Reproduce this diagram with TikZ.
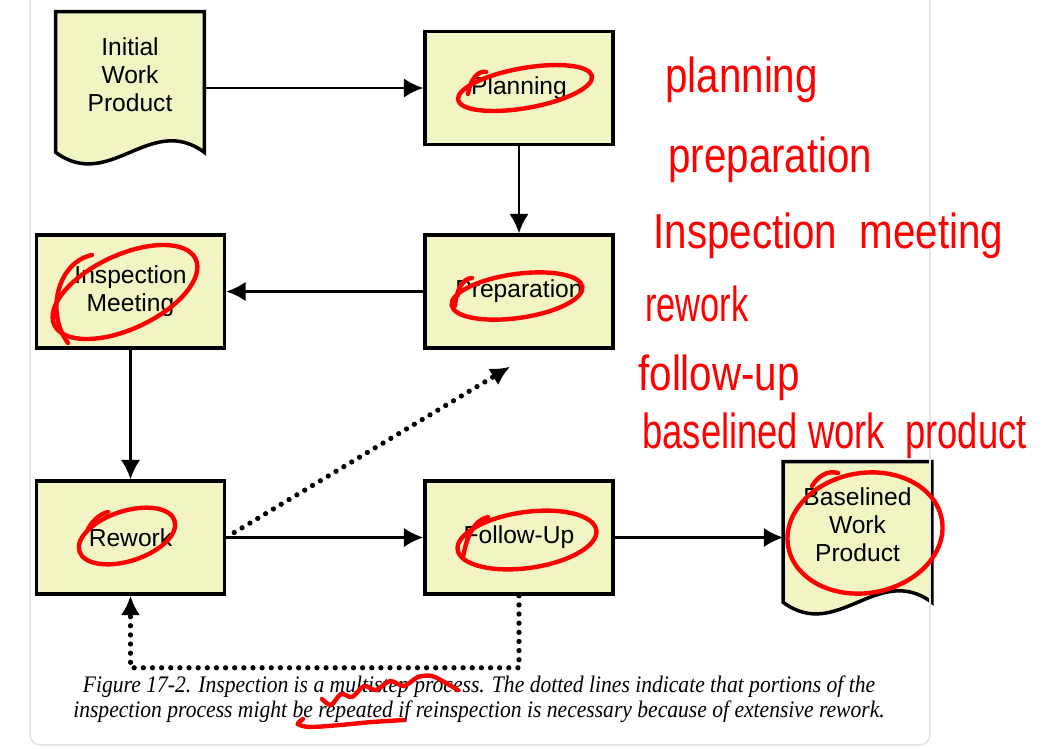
\documentclass[tikz,border=0pt]{standalone}
\usepackage{xcolor}
\usepackage{fontspec}
\setmainfont{Liberation Sans}
\newfontfamily\capfont{Liberation Serif}
\usepackage{tikz}
\usetikzlibrary{calc}
\usetikzlibrary{arrows.meta}
\usetikzlibrary{positioning}
\usetikzlibrary{backgrounds}
\definecolor{boxfill}{RGB}{242,244,196}
\definecolor{pen}{RGB}{255,0,0}
\definecolor{frame}{RGB}{230,230,230}
\tikzset{>={Latex[length=11pt,width=11pt]}}
\tikzstyle{stage} = [rectangle, draw=black, line width=2pt, fill=boxfill, minimum width=3.76cm, minimum height=2.26cm, align=center, font=\fontsize{14}{16}\selectfont]
\tikzstyle{doc} = [rectangle, draw=none, minimum width=2.96cm, minimum height=2.52cm, align=center, font=\fontsize{14}{16}\selectfont]
\tikzstyle{docline} = [draw=black, line width=2pt, fill=boxfill]
\tikzstyle{flow} = [->, line width=1.5pt]
\tikzstyle{redo} = [->, line width=3pt, line cap=round, dash pattern=on 0pt off 5.2pt]
\tikzstyle{ink} = [draw=pen, line width=2.5pt, line cap=round]
\tikzstyle{scrawl} = [text=pen, inner sep=0, anchor=base west, font=\fontsize{28}{28}\selectfont]
\newcommand{\hand}[1]{\scalebox{0.82}[1]{#1}}

\begin{document}
\begin{tikzpicture}[x=0.02cm, y=-0.02cm]
\useasboundingbox (0,0) rectangle (1044,748);
\draw [frame, line width=1pt, rounded corners=6pt] (30,0) -- (30,745) -- (930,745) -- (930,0);
% work products
\node [doc] (init) at (130,75) {Initial\\Work\\Product};
\node [doc] (base) at (857.5,525) {Baselined\\Work\\Product};
\begin{scope}[on background layer]
\draw [docline] (init.north west) -- (init.north east) -- ($(init.south east)+(0,14)$) .. controls ($(init.south east)+(-54,-26)$) and ($(init.south west)+(54,54)$) .. ($(init.south west)+(0,14)$) -- cycle;
\draw [docline] (base.north west) -- (base.north east) -- ($(base.south east)+(0,14)$) .. controls ($(base.south east)+(-54,-26)$) and ($(base.south west)+(54,54)$) .. ($(base.south west)+(0,14)$) -- cycle;
\end{scope}
% stages
\node [stage] (plan) at (519,88) {Planning};
\node [stage] (prep) at (519,291.5) {Preparation};
\node [stage] (insp) at (130.5,291.5) {Inspection\\Meeting};
\node [stage] (rew) at (130.5,537.5) {Rework};
\node [stage] (fol) at (519,537.5) {Follow-Up};
\draw [flow] (init.east |- plan.west) to (plan.west);
\draw [flow] (plan) to (prep);
\draw [flow] (prep) to (insp);
\draw [flow] (insp) to (rew);
\draw [flow] (rew) to (fol);
\draw [flow] (fol.east) to (fol.east -| base.west);
\draw [redo] ([xshift=0.16cm, yshift=0.1cm]rew.east) to ([xshift=-0.18cm, yshift=-0.34cm]prep.south);
\draw [redo] (fol.south) -- ++(0,72) -| (rew.south);
\node [font=\capfont\itshape\fontsize{13.5}{14.2}\selectfont, align=center, inner sep=0] (cap) at (479,699) {\scalebox{0.91}[1]{Figure 17-2. Inspection is a multistep process. The dotted lines indicate that portions of the}\\\scalebox{0.91}[1]{inspection process might be repeated if reinspection is necessary because of extensive rework.}};
% red marks
\draw [ink, rotate around={10:(525,88)}] (525,88) ellipse [x radius=1.36cm, y radius=0.4cm];
\draw [ink] (468,94) .. controls (470,80) and (478,70) .. (486,72);
\draw [ink, rotate around={8:(517,296)}] (517,296) ellipse [x radius=1.32cm, y radius=0.44cm];
\draw [ink] (455,306) .. controls (456,292) and (462,278) .. (472,278);
\draw [ink, rotate around={25:(125,292)}] (125,292) ellipse [x radius=1.56cm, y radius=0.74cm];
\draw [ink] (68,343) .. controls (45,312) and (58,262) .. (92,255);
\draw [ink, rotate around={18:(127,536)}] (127,536) ellipse [x radius=1.0cm, y radius=0.5cm];
\draw [ink] (88,529) .. controls (93,520) and (100,514) .. (108,512);
\draw [ink, rotate around={8:(527,540)}] (527,540) ellipse [x radius=1.4cm, y radius=0.56cm];
\draw [ink] (463,557) .. controls (466,540) and (473,520) .. (488,517);
\draw [ink, rotate around={10:(865,533)}] (865,533) ellipse [x radius=1.56cm, y radius=1.2cm];
\draw [ink] (812,486) .. controls (818,476) and (828,470) .. (838,473);
\draw [ink] plot [smooth] coordinates {(322,699) (331,705) (341,694) (352,697) (364,686) (376,690) (390,681) (404,686) (418,677) (432,676) (446,683) (458,690)};
\draw [ink] plot [smooth] coordinates {(303,719) (298,724) (310,727) (340,725) (372,722) (404,720)};
\node [scrawl] (w1) at (665,92) {\hand{planning}};
\node [scrawl] (w2) at (668,172) {\hand{preparation}};
\node [scrawl] (w3) at (653,248) {\hand{Inspection\ \ meeting}};
\node [scrawl] (w4) at (645,321) {\scalebox{0.7}[1]{rework}};
\node [scrawl] (w5) at (638,390) {\hand{follow-up}};
\node [scrawl] (w6) at (642,448) {\scalebox{0.74}[1]{baselined work\ \ product}};
\end{tikzpicture}
\end{document}
